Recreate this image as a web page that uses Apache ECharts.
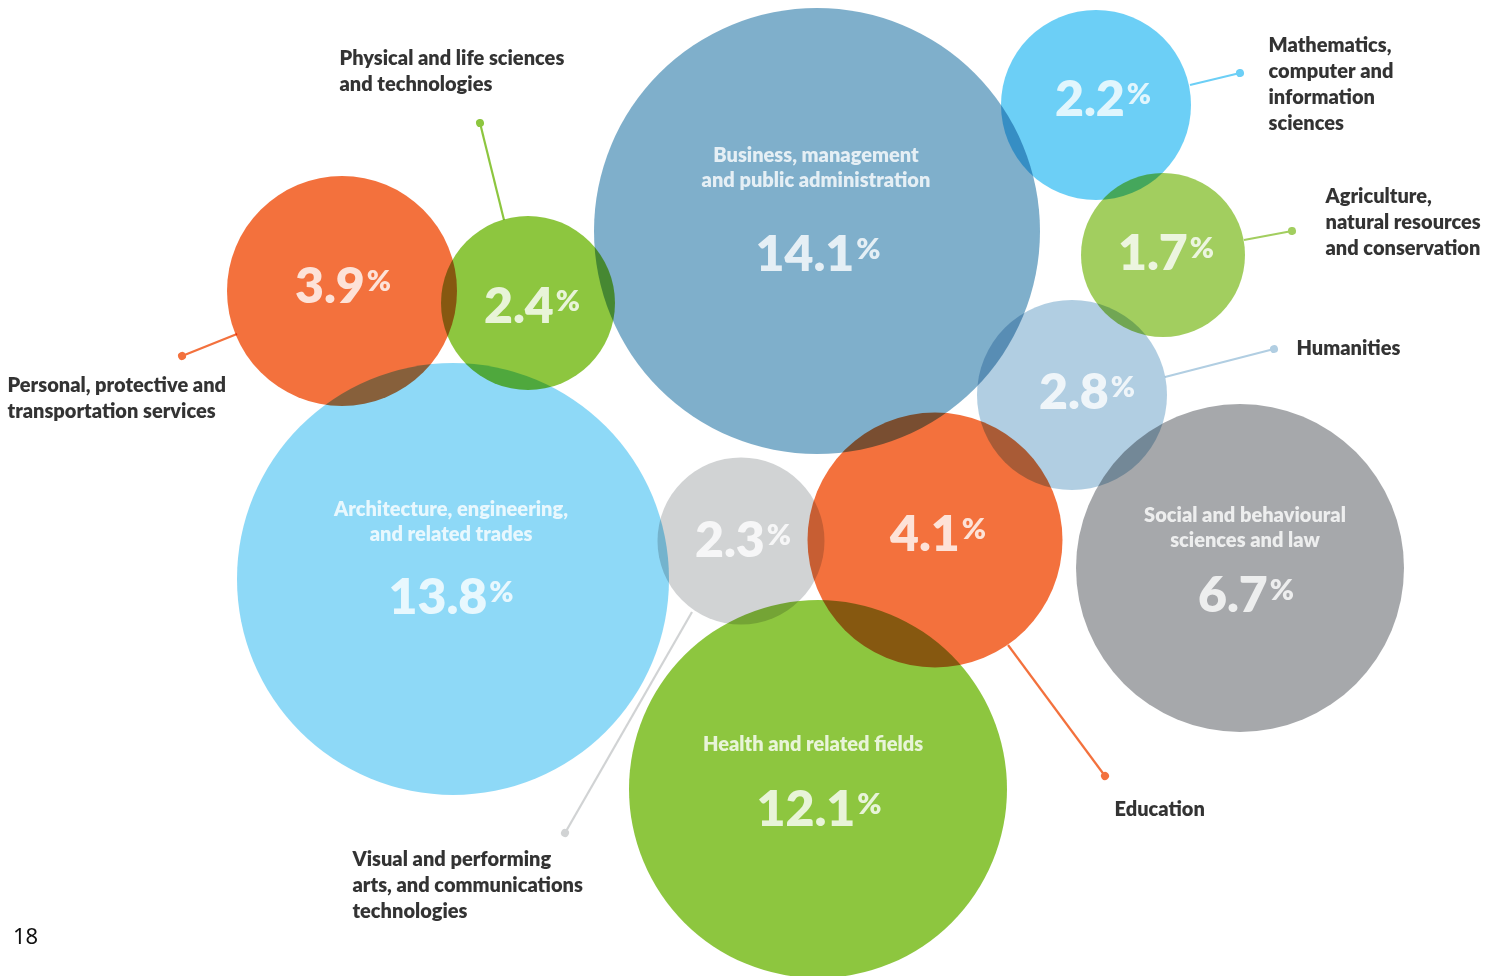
<!DOCTYPE html>
<html><head><meta charset="utf-8">
<script src="https://cdn.jsdelivr.net/npm/echarts@6/dist/echarts.min.js"></script>
<style>html,body{margin:0;padding:0;background:#fff}#c{width:1502px;height:976px}</style>
</head><body><div id="c"></div>
<script>
// ---- data ----
const categories = [
  'Business, management\nand public administration',
  'Architecture, engineering,\nand related trades',
  'Health and related fields',
  'Social and behavioural\nsciences and law',
  'Education',
  'Personal, protective and\ntransportation services',
  'Humanities',
  'Physical and life sciences\nand technologies',
  'Visual and performing\narts, and communications\ntechnologies',
  'Mathematics,\ncomputer and\ninformation\nsciences',
  'Agriculture,\nnatural resources\nand conservation'
];
const shares = [14.1, 13.8, 12.1, 6.7, 4.1, 3.9, 2.8, 2.4, 2.3, 2.2, 1.7];
const percentLabels = ['14.1', '13.8', '12.1', '6.7', '4.1', '3.9', '2.8', '2.4', '2.3', '2.2', '1.7'];

// ---- layout (bubble placement in a 1502 x 976 plane) ----
const centerX = [817, 453, 818, 1240, 935, 342, 1072, 528, 741, 1096, 1163];
const centerY = [231, 579, 789, 568, 540, 291, 395, 303, 541, 105, 255];
const diameter = [446, 432, 378, 328, 255, 230, 190, 174, 167, 190, 164];
const colors = ['#7FAFCB', '#8ED9F7', '#8DC63F', '#A6A8AB', '#F3713D', '#F3713D', '#B1CEE2', '#8DC63F', '#D1D3D4', '#6CCFF6', '#A2CE5F'];
const nameInside = [true, true, true, true, false, false, false, false, false, false, false];
const nameOffset = [[-1, -63], [-2, -57], [-5, -44], [5, -40], null, null, null, null, null, null, null];
const numberOffset = [[1, 24], [-2, 19], [1, 21], [6, 28], [3, -5], [1, -4], [15, -2], [4, 4], [2, 0], [7, -5], [3, -1]];
// outside label anchors (left x, middle y)
const outsideAnchor = [null, null, null, null, [1114, 810], [7, 399], [1296, 349], [339, 72], [352, 886], [1268, 85], [1325, 223]];
// leader lines: [x1, y1, x2, y2]
const leaders = [null, null, null, null, [1008, 645, 1105, 776], [237, 334, 182, 356], [1165, 377, 1274, 349], [504, 220, 480, 123], [692, 612, 565, 833], [1190, 85, 1240, 73], [1244, 240, 1292, 231]];
const leaderColors = [null, null, null, null, '#F3713D', '#F3713D', '#B1CEE2', '#8DC63F', '#D1D3D4', '#6CCFF6', '#A2CE5F'];

const FONT = 'Lato';
const WEIGHT = 800;

const chart = echarts.init(document.getElementById('c'));

const leaderData = [];
leaders.forEach((l, i) => {
  if (!l) return;
  leaderData.push({ coords: [[l[0], l[1]], [l[2], l[3]]], lineStyle: { color: leaderColors[i] } });
});

const bubbleData = categories.map((c, i) => ({
  name: c, value: [centerX[i], centerY[i], shares[i]], symbolSize: diameter[i],
  itemStyle: { color: colors[i], opacity: 1 }
}));

const numberData = categories.map((c, i) => ({
  name: c, value: [centerX[i], centerY[i], shares[i]],
  label: { offset: numberOffset[i], formatter: '{n|' + percentLabels[i] + '}{p|%}' }
}));

const insideNameData = [];
const outsideNameData = [];
categories.forEach((c, i) => {
  if (nameInside[i]) {
    insideNameData.push({ name: c, value: [centerX[i], centerY[i]], label: { offset: nameOffset[i] } });
  } else {
    outsideNameData.push({ name: c, value: outsideAnchor[i] });
  }
});

const hidden = { symbol: 'circle', symbolSize: 1, itemStyle: { color: 'rgba(0,0,0,0)' }, emphasis: { disabled: true }, silent: true };

chart.setOption({
  animation: false,
  backgroundColor: '#ffffff',
  grid: { left: 0, right: 0, top: 0, bottom: 0 },
  xAxis: { type: 'value', min: 0, max: 1502, show: false },
  yAxis: { type: 'value', min: 0, max: 976, inverse: true, show: false },
  series: [
    {
      type: 'lines', coordinateSystem: 'cartesian2d', z: 1, silent: true,
      symbol: ['none', 'circle'], symbolSize: [0, 8],
      lineStyle: { width: 2.2, opacity: 1 },
      data: leaderData
    },
    {
      type: 'scatter', z: 2, blendMode: 'multiply', symbol: 'circle', silent: true,
      emphasis: { disabled: true },
      data: bubbleData
    },
    Object.assign({
      type: 'scatter', z: 10,
      label: {
        show: true, position: 'inside',
        rich: {
          n: { fontFamily: FONT, fontWeight: WEIGHT, fontSize: 50, lineHeight: 50, color: '#fff' },
          p: { fontFamily: FONT, fontWeight: WEIGHT, fontSize: 29, lineHeight: 34, verticalAlign: 'top', color: '#fff', padding: [5, 0, 0, 2] }
        }
      },
      data: numberData
    }, hidden),
    Object.assign({
      type: 'scatter', z: 10,
      label: {
        show: true, position: 'inside', formatter: '{b}', align: 'center',
        fontFamily: FONT, fontWeight: WEIGHT, fontSize: 20, lineHeight: 25, color: '#fff'
      },
      data: insideNameData
    }, hidden),
    Object.assign({
      type: 'scatter', z: 10,
      label: {
        show: true, position: 'right', distance: 0, formatter: '{b}', align: 'left',
        fontFamily: FONT, fontWeight: WEIGHT, fontSize: 20, lineHeight: 26, color: '#000'
      },
      data: outsideNameData
    }, hidden)
  ],
  graphic: [{
    type: 'text', left: 13, top: 927,
    style: { text: '18', fontFamily: 'Noto Sans', fontSize: 22, fill: '#111' }
  }]
});
</script></body></html>
